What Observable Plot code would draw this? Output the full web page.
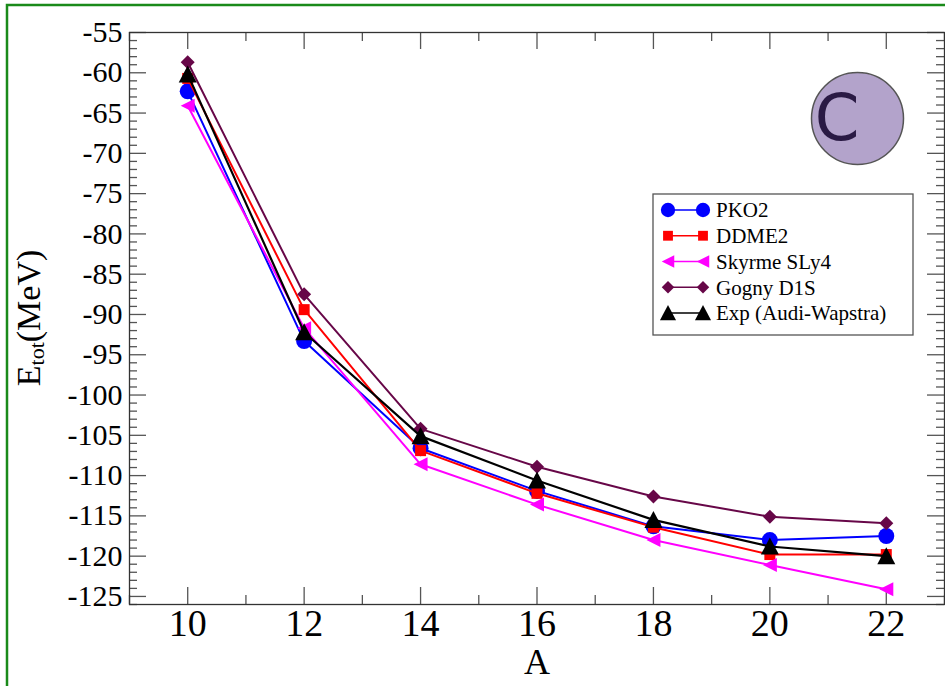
<!DOCTYPE html>
<html><head><meta charset="utf-8">
<script src="https://cdn.jsdelivr.net/npm/d3@7"></script>
<script src="https://cdn.jsdelivr.net/npm/@observablehq/plot@0.6"></script>
<style>
body{margin:0;background:#fff;}
#chart{position:relative;width:945px;height:686px;overflow:hidden}
#chart svg text, #chart svg tspan { font-family: "Liberation Serif", "Times New Roman", serif; }
</style>
</head><body><div id="chart"></div>
<script>
// ---- data ----
const massNumbers = [10, 12, 14, 16, 18, 20, 22];
const pko2  = [-62.3, -93.3, -106.6, -111.9, -116.3, -118.0, -117.5];
const ddme2 = [-60.7, -89.4, -106.9, -112.2, -116.4, -119.8, -119.8];
const sly4  = [-64.1, -91.7, -108.6, -113.6, -118.0, -121.1, -124.1];
const d1s   = [-58.7, -87.5, -104.2, -108.9, -112.6, -115.1, -115.9];
const expAW = [-60.2, -92.2, -105.1, -110.6, -115.5, -118.8, -120.0];
const seriesNames = ["PKO2", "DDME2", "Skyrme SLy4", "Gogny D1S", "Exp (Audi-Wapstra)"];
const xMajorTicks = [10, 12, 14, 16, 18, 20, 22];
const xMinorTicks = [9, 11, 13, 15, 17, 19, 21, 23];
const yMajorTicks = [-55, -60, -65, -70, -75, -80, -85, -90, -95, -100, -105, -110, -115, -120, -125];
const yMinorTicks = d3.range(-126, -54, 1).filter(v => v % 5 !== 0);
const yTitle = "E";
const yTitleSub = "tot";
const yTitleUnit = "(MeV)";
const xTitle = "A";
const badgeLabel = "C";

// ---- symbols ----
const mkSym = pts => ({draw(ctx, size){ const r = Math.sqrt(size/Math.PI);
  ctx.moveTo(pts[0][0]*r, pts[0][1]*r);
  for (let i=1;i<pts.length;i++) ctx.lineTo(pts[i][0]*r, pts[i][1]*r);
  ctx.closePath(); }});
const symSquare = mkSym([[-1,-1],[1,-1],[1,1],[-1,1]]);
const symDiamond = mkSym([[0,-1],[1,0],[0,1],[-1,0]]);
const symTriUp = mkSym([[0,-1],[1,0.9],[-1,0.9]]);
const symTriLeft = mkSym([[-1,0],[1,-1],[1,1]]);

const seriesValues = [pko2, ddme2, sly4, d1s, expAW];
const styles = [
  {color:"#0000ff", symbol:"circle", r:8, w:2},
  {color:"#ff0000", symbol:symSquare, r:5.5, w:2},
  {color:"#ff00ff", symbol:symTriLeft, r:7, w:2},
  {color:"#670748", symbol:symDiamond, r:7, w:2},
  {color:"#000000", symbol:symTriUp, r:9, w:2.2}
];
const table = seriesNames.flatMap((s, i) => massNumbers.map((a, j) => ({series:s, A:a, E:seriesValues[i][j]})));

const W=945, H=686, mL=129, mR=1, mT=32, mB=82;
const ph = H - mT - mB, pw = W - mL - mR;
const SERIF = "Liberation Serif";

const dataMarks = seriesNames.flatMap((s, i) => {
  const d = table.filter(t => t.series === s);
  const st = styles[i];
  return [
    Plot.line(d, {x:"A", y:"E", stroke:st.color, strokeWidth:st.w}),
    Plot.dot(d, {x:"A", y:"E", symbol:()=>st.symbol, fill:st.color, stroke:"none", r:st.r})
  ];
});

const tickColor = "#555";
const plot = Plot.plot({
  width:W, height:H, marginLeft:mL, marginRight:mR, marginTop:mT, marginBottom:mB,
  style:{fontFamily:SERIF, background:"white", color:"black", overflow:"visible"},
  x:{domain:[9,23]}, y:{domain:[-126,-55]},
  symbol:{type:"identity"},
  marks:[
    Plot.tickX(xMajorTicks, {x:d=>d, insetTop:ph-17, stroke:tickColor, strokeWidth:1.3}),
    Plot.tickX(xMinorTicks, {x:d=>d, insetTop:ph-9, stroke:tickColor, strokeWidth:1.3}),
    Plot.tickX(xMajorTicks, {x:d=>d, insetBottom:ph-17, stroke:tickColor, strokeWidth:1.3}),
    Plot.tickX(xMinorTicks, {x:d=>d, insetBottom:ph-9, stroke:tickColor, strokeWidth:1.3}),
    Plot.tickY(yMajorTicks, {y:d=>d, insetRight:pw-17, stroke:tickColor, strokeWidth:1.3}),
    Plot.tickY(yMinorTicks, {y:d=>d, insetRight:pw-8, stroke:tickColor, strokeWidth:1.3}),
    Plot.tickY(yMajorTicks, {y:d=>d, insetLeft:pw-17, stroke:tickColor, strokeWidth:1.3}),
    Plot.tickY(yMinorTicks, {y:d=>d, insetLeft:pw-8, stroke:tickColor, strokeWidth:1.3}),
    Plot.axisX(xMajorTicks, {anchor:"bottom", tickSize:0, tickPadding:5, fontSize:38, fontFamily:SERIF, tickFormat:d=>String(d), label:null}),
    Plot.axisY(yMajorTicks, {anchor:"left", tickSize:0, tickPadding:7, fontSize:30, fontFamily:SERIF, tickFormat:d=>String(d), label:null}),
    Plot.text([xTitle], {frameAnchor:"bottom", dy:58, fontSize:36, fontFamily:SERIF, lineAnchor:"middle"}),
    Plot.dot([badgeLabel], {frameAnchor:"top-right", dx:-87, dy:86, r:46, fill:"#b3a3cb", stroke:"#555", strokeWidth:1.5}),
    Plot.text([badgeLabel], {frameAnchor:"top-right", dx:-85, dy:87, fontSize:64, fontFamily:"DejaVu Sans", fill:"#2a1a44", lineAnchor:"middle"}),
    ...dataMarks,
    Plot.frame({stroke:"#333", strokeWidth:1.3})
  ]
});

const svg = d3.select(plot);
// badge letter in sans-serif
svg.selectAll("text").filter(function(){ return this.textContent === badgeLabel && this.closest("g") && this.closest("g").getAttribute("fill") === "#2a1a44"; })
  .style("font-family", "'DejaVu Sans', sans-serif");

// y-axis title with subscript
const yt = svg.append("text")
  .attr("transform", `translate(${28},${(mT + H - mB)/2}) rotate(-90)`)
  .attr("text-anchor","middle").attr("dominant-baseline","central")
  .attr("font-size",34).attr("fill","black");
yt.append("tspan").text(yTitle);
yt.append("tspan").attr("font-size",22).attr("dy","0.35em").text(yTitleSub);
yt.append("tspan").attr("dy","-0.23em").text(yTitleUnit);

// legend
const lg = svg.append("g").attr("text-anchor","start");
lg.append("rect").attr("x",653).attr("y",194).attr("width",260).attr("height",141)
  .attr("fill","white").attr("stroke","#555").attr("stroke-width",1.3);
seriesNames.forEach((s, i) => {
  const y = 210 + i*25.75, st = styles[i];
  const g = lg.append("g");
  g.append("line").attr("x1",668).attr("x2",703).attr("y1",y).attr("y2",y).attr("stroke",st.color).attr("stroke-width",1.5);
  const type = st.symbol === "circle" ? d3.symbolCircle : st.symbol;
  [668,703].forEach(x => g.append("path").attr("transform",`translate(${x},${y})`)
     .attr("d", d3.symbol().type(type).size(Math.PI*st.r*st.r*0.8)()).attr("fill",st.color));
  g.append("text").attr("x",716).attr("y",y).attr("dy","0.35em").attr("text-anchor","start")
   .attr("font-size",21).attr("fill","black").text(s);
});
// outer green border
svg.append("rect").attr("x",7).attr("y",5).attr("width",1200).attr("height",1200)
  .attr("fill","none").attr("stroke","#1a8a1a").attr("stroke-width",2.5);

document.getElementById("chart").appendChild(plot);
</script>
</body></html>
